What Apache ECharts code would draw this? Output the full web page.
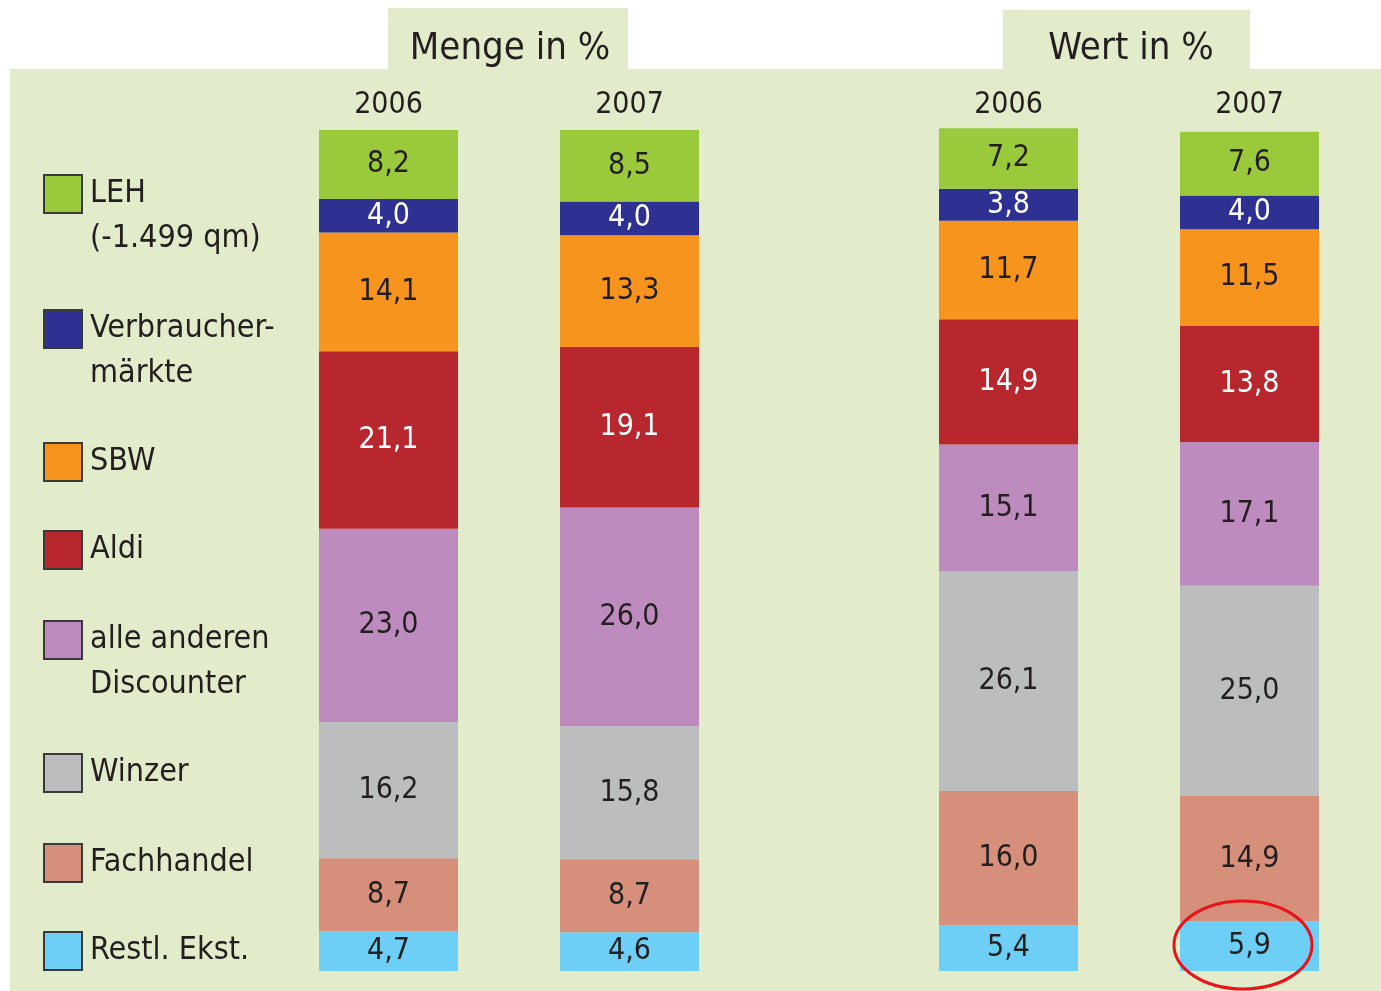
<!DOCTYPE html>
<html>
<head>
<meta charset="utf-8">
<script src="https://cdn.jsdelivr.net/npm/echarts@6/dist/echarts.min.js"></script>
<style>
  html, body { margin: 0; padding: 0; background: #fff; }
  #main { width: 1381px; height: 991px; }
</style>
</head>
<body>
<div id="main"></div>
<script>
// segments, top of the bar first
var segments = ['LEH (-1.499 qm)', 'Verbrauchermärkte', 'SBW', 'Aldi', 'alle anderen Discounter', 'Winzer', 'Fachhandel', 'Restl. Ekst.'];
var legendText = ['LEH\n(-1.499 qm)', 'Verbraucher-\nmärkte', 'SBW', 'Aldi', 'alle anderen\nDiscounter', 'Winzer', 'Fachhandel', 'Restl. Ekst.'];
var years = ['2006', '2007'];
var menge2006 = [8.2, 4.0, 14.1, 21.1, 23.0, 16.2, 8.7, 4.7];
var menge2007 = [8.5, 4.0, 13.3, 19.1, 26.0, 15.8, 8.7, 4.6];
var wert2006 = [7.2, 3.8, 11.7, 14.9, 15.1, 26.1, 16.0, 5.4];
var wert2007 = [7.6, 4.0, 11.5, 13.8, 17.1, 25.0, 14.9, 5.9];

var colors = ['#9aca3c', '#2e3192', '#f7941e', '#b7272d', '#bd8bbd', '#bcbdbf', '#d68f7a', '#6dcff6'];
var labelColors = ['#231f20', '#ffffff', '#231f20', '#ffffff', '#231f20', '#231f20', '#231f20', '#231f20'];
var legendIconTop = [173, 308, 441, 529, 619, 752, 842, 930];

var FONT = '"DejaVu Sans Condensed", "DejaVu Sans", sans-serif';
var BG = '#e2ecca';

var chart = echarts.init(document.getElementById('main'));

function fmt(p) { return p.value.toFixed(1).replace('.', ','); }

var series = [];
// stack bottom-up: last segment first
for (var i = segments.length - 1; i >= 0; i--) {
  [[menge2006, menge2007, 0], [wert2006, wert2007, 1]].forEach(function (d) {
    series.push({
      name: segments[i],
      type: 'bar',
      stack: 's' + d[2],
      xAxisIndex: d[2],
      yAxisIndex: d[2],
      barWidth: 139,
      clip: false,
      itemStyle: { color: colors[i] },
      label: {
        show: true, position: 'inside', formatter: fmt,
        color: labelColors[i], fontFamily: FONT, fontSize: 30
      },
      data: [d[0][i], d[1][i]]
    });
  });
}

var legends = segments.map(function (name, i) {
  var twoLines = legendText[i].indexOf('\n') >= 0;
  return {
    left: 43,
    top: twoLines ? legendIconTop[i] - 48.5 : legendIconTop[i] - 3.5,
    padding: 0,
    orient: 'vertical',
    selectedMode: false,
    icon: 'rect',
    itemWidth: 38, itemHeight: 38,
    itemStyle: { borderColor: '#3a3a3a', borderWidth: 2 },
    data: [name],
    formatter: function () { return twoLines ? '\n' + legendText[i] : legendText[i]; },
    textStyle: { fontFamily: FONT, fontSize: 32, lineHeight: 45, color: '#231f20', padding: [4, 0, 0, 3] }
  };
});

var axisCommon = {
  type: 'category', data: years, position: 'top',
  axisLine: { show: false }, axisTick: { show: false },
  axisLabel: { fontFamily: FONT, fontSize: 30, color: '#231f20', margin: 10 }
};
var yCommon = { type: 'value', min: 0, max: 100, show: false, splitLine: { show: false } };

chart.setOption({
  animation: false,
  backgroundColor: '#ffffff',
  title: [
    { text: 'Menge in %', left: 510, top: 49, padding: 0, textAlign: 'center', textVerticalAlign: 'middle',
      textStyle: { fontFamily: FONT, fontSize: 38, fontWeight: 'normal', color: '#231f20' } },
    { text: 'Wert in %', left: 1131, top: 49, padding: 0, textAlign: 'center', textVerticalAlign: 'middle',
      textStyle: { fontFamily: FONT, fontSize: 38, fontWeight: 'normal', color: '#231f20' } }
  ],
  graphic: [
    { type: 'rect', z: -10, shape: { x: 10, y: 69, width: 1371, height: 922 }, style: { fill: BG } },
    { type: 'rect', z: -10, shape: { x: 388, y: 8, width: 240, height: 62 }, style: { fill: BG } },
    { type: 'rect', z: -10, shape: { x: 1003, y: 10, width: 247, height: 60 }, style: { fill: BG } },
    { type: 'ellipse', z: 100, shape: { cx: 1243, cy: 945, rx: 69, ry: 44 },
      style: { fill: 'none', stroke: '#e8131b', lineWidth: 3 } }
  ],
  legend: legends,
  grid: [
    { left: 268, width: 482, top: 130, bottom: 20 },
    { left: 888, width: 482, top: 130, bottom: 20 }
  ],
  xAxis: [
    Object.assign({ gridIndex: 0 }, axisCommon),
    Object.assign({ gridIndex: 1 }, axisCommon)
  ],
  yAxis: [
    Object.assign({ gridIndex: 0 }, yCommon),
    Object.assign({ gridIndex: 1 }, yCommon)
  ],
  series: series
});
</script>
</body>
</html>
